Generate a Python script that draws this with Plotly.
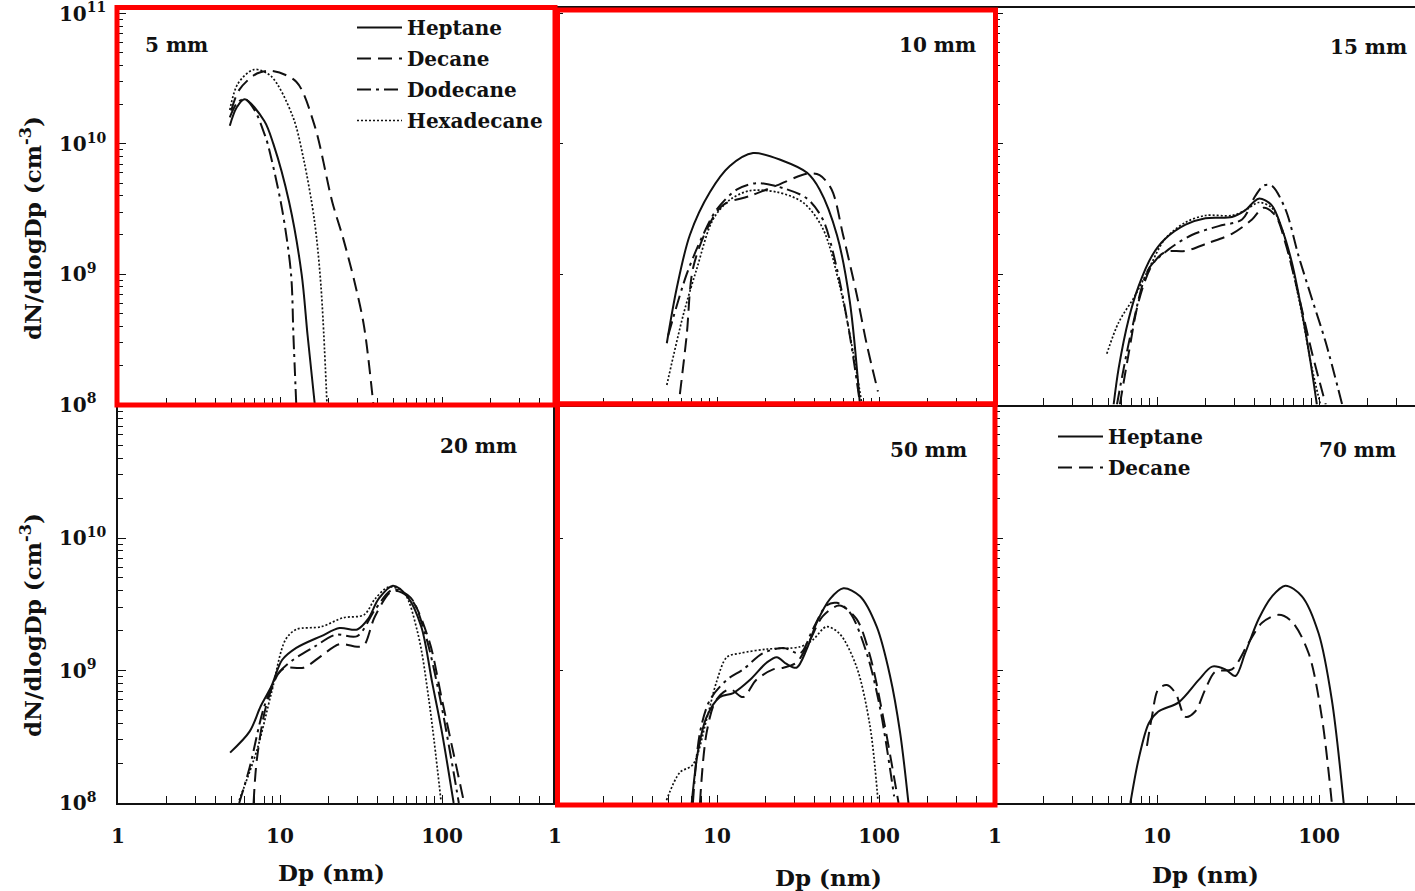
import plotly.graph_objects as go
from plotly.subplots import make_subplots

# ---------------- data ----------------
fuels = ["Heptane", "Decane", "Dodecane", "Hexadecane"]
panel_labels = ["5 mm", "10 mm", "15 mm", "20 mm", "50 mm", "70 mm"]
x_tick_vals = [1, 10, 100]
x_tick_text = ["1", "10", "100"]
x_minor_vals = [2, 3, 4, 5, 6, 7, 8, 9, 20, 30, 40, 50, 60, 70, 80, 90, 200, 300, 400]
y_tick_vals = [1e8, 1e9, 1e10, 1e11]
y_tick_text_top = ["10<sup>8\u2007</sup>", "10<sup>9\u2007</sup>", "10<sup>10</sup>", "10<sup>11</sup>"]
y_tick_text_bottom = ["10<sup>8\u2007</sup>", "10<sup>9\u2007</sup>", "10<sup>10</sup>", " "]
y_minor_vals = [k * 10 ** e for e in (8, 9, 10) for k in range(2, 10)]
x_title = "Dp (nm)"
y_title = "dN/dlogDp (cm<sup>-3</sup>)"

# 5 mm
dp_5_hep = [4.9, 5.4, 6.05, 8.0, 9.1, 11.4, 13.6, 14.8, 16.4]
n_5_hep = [1.38e10, 1.9e10, 2.2e10, 1.5e10, 1.0e10, 3.55e9, 1.0e9, 3.4e8, 1.0e8]
dp_5_dec = [5.0, 5.6, 7.2, 8.9, 12.6, 16.3, 21.0, 24.5, 29.0, 33.0, 37.7]
n_5_dec = [1.8e10, 2.6e10, 3.47e10, 3.63e10, 3.0e10, 1.4e10, 3.6e9, 1.9e9, 8.5e8, 4.0e8, 1.0e8]
dp_5_dod = [4.9, 5.5, 6.1, 7.0, 8.0, 8.4, 10.3, 11.7, 12.1, 12.6]
n_5_dod = [1.6e10, 2.1e10, 2.2e10, 1.8e10, 1.2e10, 1.0e10, 3.16e9, 1.0e9, 3.4e8, 1.0e8]
dp_5_hex = [4.9, 5.5, 6.9, 8.8, 12.0, 14.0, 16.3, 17.9, 19.5]
n_5_hex = [1.82e10, 2.9e10, 3.72e10, 3.31e10, 1.62e10, 7.6e9, 2.6e9, 8.1e8, 1.0e8]

# 10 mm
dp_10_hep = [4.9, 5.64, 6.8, 9.05, 12.0, 16.7, 25.7, 36.0, 43.0, 55.0, 66.0, 76.0]
n_10_hep = [2.95e8, 7.8e8, 2.0e9, 4.27e9, 6.76e9, 8.5e9, 7.4e9, 6.0e9, 4.47e9, 2.0e9, 6.2e8, 1.05e8]
dp_10_dec = [5.9, 6.5, 7.1, 8.7, 10.9, 15.9, 23.4, 36.0, 43.0, 51.0, 60.0, 73.0, 84.0, 98.5]
n_10_dec = [1.2e8, 3.4e8, 1.1e9, 2.24e9, 3.4e9, 3.98e9, 4.8e9, 5.9e9, 5.75e9, 4.47e9, 2.0e9, 6.9e8, 2.9e8, 1.26e8]
dp_10_dod = [5.0, 6.5, 8.2, 10.0, 13.3, 17.6, 25.7, 36.0, 45.0, 55.0, 66.0, 76.0]
n_10_dod = [3.4e8, 1.0e9, 2.0e9, 3.16e9, 4.47e9, 5.0e9, 4.57e9, 3.8e9, 2.63e9, 1.1e9, 3.4e8, 1.05e8]
dp_10_hex = [4.9, 6.2, 7.5, 9.45, 12.0, 15.9, 23.4, 34.0, 45.0, 57.0, 69.0, 78.0]
n_10_hex = [1.41e8, 4.9e8, 1.1e9, 2.63e9, 3.72e9, 4.37e9, 4.27e9, 3.55e9, 2.24e9, 8.3e8, 2.57e8, 1.05e8]

# 15 mm
dp_15_hep = [5.4, 5.8, 6.7, 7.7, 9.3, 11.2, 15.0, 19.9, 29.0, 35.0, 42.4, 51.0, 59.0, 68.0, 78.5, 88.5, 97.0]
n_15_hep = [1.0e8, 1.9e8, 4.57e8, 8.1e8, 1.38e9, 1.86e9, 2.4e9, 2.69e9, 2.75e9, 3.09e9, 3.8e9, 3.39e9, 2.24e9, 1.23e9, 5.13e8, 2.14e8, 1.0e8]
dp_15_dec = [5.9, 6.7, 7.7, 9.3, 11.2, 15.0, 20.8, 29.0, 38.6, 45.5, 53.8, 62.0, 74.8, 90.5, 110.0]
n_15_dec = [1.0e8, 2.5e8, 6.17e8, 1.17e9, 1.48e9, 1.51e9, 1.74e9, 2.04e9, 2.63e9, 3.24e9, 2.82e9, 1.74e9, 6.9e8, 2.5e8, 1.0e8]
dp_15_dod = [5.66, 7.0, 8.9, 11.8, 16.4, 24.0, 33.5, 40.4, 45.5, 51.0, 62.0, 74.8, 90.5, 110.0, 139.0]
n_15_dod = [1.0e8, 3.8e8, 1.1e9, 1.55e9, 2.0e9, 2.34e9, 2.63e9, 3.98e9, 4.79e9, 4.79e9, 3.16e9, 1.38e9, 6.46e8, 3.0e8, 1.0e8]
dp_15_hex = [4.9, 5.8, 7.35, 8.9, 11.2, 15.0, 19.9, 29.0, 35.0, 42.4, 51.0, 59.0, 68.0, 78.5, 90.5, 102.0]
n_15_hex = [2.45e8, 4.27e8, 6.9e8, 1.1e9, 1.86e9, 2.5e9, 2.82e9, 2.82e9, 3.09e9, 3.55e9, 3.24e9, 2.24e9, 1.15e9, 4.9e8, 1.9e8, 1.0e8]

# 20 mm
dp_20_hep = [4.92, 6.5, 7.6, 8.85, 10.3, 12.6, 18.0, 23.3, 30.0, 35.0, 40.6, 49.7, 61.0, 74.5, 87.0, 100.0, 118.0]
n_20_hep = [2.4e8, 3.47e8, 5.37e8, 7.6e8, 1.2e9, 1.48e9, 1.82e9, 2.09e9, 2.04e9, 2.45e9, 3.47e9, 4.37e9, 3.63e9, 2.14e9, 8.1e8, 3.4e8, 1.0e8]
dp_20_dec = [6.87, 7.2, 8.2, 9.8, 10.8, 14.0, 18.0, 23.3, 30.0, 33.0, 38.6, 49.7, 64.0, 83.0, 100.0, 137.0]
n_20_dec = [1.0e8, 2.14e8, 5.37e8, 9.55e8, 1.05e9, 1.05e9, 1.29e9, 1.58e9, 1.51e9, 1.55e9, 2.57e9, 3.98e9, 3.47e9, 1.7e9, 6.0e8, 1.0e8]
dp_20_dod = [5.6, 6.5, 8.0, 9.8, 12.0, 16.3, 22.0, 30.0, 38.6, 49.7, 64.0, 78.6, 95.8, 118.0, 127.0]
n_20_dod = [1.0e8, 1.86e8, 5.37e8, 9.55e8, 1.2e9, 1.51e9, 1.86e9, 1.82e9, 2.88e9, 4.07e9, 3.55e9, 1.9e9, 6.76e8, 1.7e8, 1.0e8]
dp_20_hex = [5.6, 7.2, 8.85, 10.8, 12.6, 18.0, 24.5, 33.0, 38.6, 47.0, 58.0, 71.0, 83.0, 98.5]
n_20_hex = [1.05e8, 2.5e8, 6.76e8, 1.7e9, 2.04e9, 2.14e9, 2.5e9, 2.63e9, 3.47e9, 4.27e9, 3.89e9, 1.9e9, 6.0e8, 1.05e8]

# 50 mm
dp_50_hep = [6.98, 7.65, 8.63, 10.4, 12.6, 16.0, 20.3, 23.4, 26.9, 31.0, 35.8, 41.2, 49.9, 60.3, 76.4, 96.8, 117.0, 135.0, 152.0]
n_50_hep = [1.0e8, 2.5e8, 4.47e8, 6.3e8, 6.76e8, 8.5e8, 1.15e9, 1.26e9, 1.12e9, 1.05e9, 1.45e9, 2.29e9, 3.47e9, 4.17e9, 3.63e9, 2.14e9, 9.1e8, 3.4e8, 1.0e8]
dp_50_dec = [7.85, 8.63, 9.9, 12.0, 14.5, 17.5, 22.2, 25.7, 31.0, 37.5, 45.0, 57.0, 72.6, 88.0, 106.0, 132.0]
n_50_dec = [1.0e8, 3.4e8, 6.0e8, 7.24e8, 6.3e8, 8.5e8, 1.02e9, 1.05e9, 1.15e9, 1.7e9, 2.57e9, 3.09e9, 2.45e9, 1.29e9, 4.47e8, 1.0e8]
dp_50_dod = [7.1, 7.85, 9.05, 11.5, 14.5, 19.2, 25.7, 32.6, 39.0, 47.4, 54.8, 66.0, 84.0, 101.0, 124.0]
n_50_dod = [1.0e8, 3.4e8, 6.0e8, 8.5e8, 1.02e9, 1.35e9, 1.48e9, 1.35e9, 2.04e9, 3.09e9, 3.24e9, 2.75e9, 1.35e9, 5.37e8, 1.12e8]
dp_50_hex = [4.88, 5.9, 7.1, 8.63, 9.9, 11.5, 13.9, 20.3, 32.6, 39.0, 47.4, 57.0, 72.6, 88.0, 98.5]
n_50_hex = [1.05e8, 1.7e8, 1.95e8, 4.27e8, 8.1e8, 1.26e9, 1.35e9, 1.45e9, 1.51e9, 1.7e9, 2.14e9, 1.9e9, 1.07e9, 3.8e8, 1.05e8]

# 70 mm
dp_70_hep = [6.85, 7.7, 8.9, 10.2, 13.6, 18.1, 21.9, 26.4, 30.5, 35.0, 42.4, 51.3, 62.0, 78.5, 99.5, 120.0, 142.0]
n_70_hep = [1.0e8, 2.14e8, 4.0e8, 4.9e8, 5.75e8, 8.5e8, 1.07e9, 1.02e9, 9.1e8, 1.35e9, 2.45e9, 3.63e9, 4.37e9, 3.63e9, 1.9e9, 6.0e8, 1.0e8]
dp_70_dec = [8.67, 9.3, 10.2, 11.5, 13.0, 15.0, 17.2, 19.9, 22.9, 29.0, 36.8, 44.5, 56.4, 68.0, 86.3, 104.0, 120.0]
n_70_dec = [2.7e8, 4.47e8, 7.24e8, 7.76e8, 6.76e8, 4.47e8, 4.9e8, 7.24e8, 9.8e8, 1.02e9, 1.62e9, 2.29e9, 2.63e9, 2.34e9, 1.35e9, 4.47e8, 1.0e8]

panels = [
    [("Heptane", dp_5_hep, n_5_hep), ("Decane", dp_5_dec, n_5_dec),
     ("Dodecane", dp_5_dod, n_5_dod), ("Hexadecane", dp_5_hex, n_5_hex)],
    [("Heptane", dp_10_hep, n_10_hep), ("Decane", dp_10_dec, n_10_dec),
     ("Dodecane", dp_10_dod, n_10_dod), ("Hexadecane", dp_10_hex, n_10_hex)],
    [("Heptane", dp_15_hep, n_15_hep), ("Decane", dp_15_dec, n_15_dec),
     ("Dodecane", dp_15_dod, n_15_dod), ("Hexadecane", dp_15_hex, n_15_hex)],
    [("Heptane", dp_20_hep, n_20_hep), ("Decane", dp_20_dec, n_20_dec),
     ("Dodecane", dp_20_dod, n_20_dod), ("Hexadecane", dp_20_hex, n_20_hex)],
    [("Heptane", dp_50_hep, n_50_hep), ("Decane", dp_50_dec, n_50_dec),
     ("Dodecane", dp_50_dod, n_50_dod), ("Hexadecane", dp_50_hex, n_50_hex)],
    [("Heptane", dp_70_hep, n_70_hep), ("Decane", dp_70_dec, n_70_dec)],
]

# ---------------- styling / layout ----------------
W, H = 1415, 891
ML, MT, MB = 118, 8, 88
PW, PH = W - ML, H - MT - MB

def fx(px):
    return (px - ML) / PW

def fy(py):
    return (H - MB - py) / PH

FONT = "DejaVu Serif"
INK = "#111111"
dash = {"Heptane": "solid", "Decane": "14px,7px", "Dodecane": "14px,5px,3px,5px", "Hexadecane": "2px,2px"}
width = {"Heptane": 2.0, "Decane": 2.0, "Dodecane": 2.0, "Hexadecane": 1.7}

col_px = [(118, 555), (555, 995), (995, 1415)]
row_px = [(8, 404.5), (404.5, 803)]
dec_x = 162.0
y_top_range = [8, 8 + (404.5 - 8) / 130.3]
y_bot_range = [8, 8 + (803 - 404.5) / 132.5]

fig = make_subplots(rows=2, cols=3, horizontal_spacing=0, vertical_spacing=0)

for i, series in enumerate(panels):
    r, c = i // 3 + 1, i % 3 + 1
    for name, dp, n in series:
        if i == 0:
            leg, show = "legend", True
        elif i == 5:
            leg, show = "legend2", True
        else:
            leg, show = "legend", False
        fig.add_trace(go.Scatter(
            x=dp, y=n, mode="lines", name=name,
            line=dict(color=INK, width=width[name], dash=dash[name], shape="spline", smoothing=0.9),
            showlegend=show, legend=leg, legendgroup=f"{name}{i}",
            hoverinfo="skip"), row=r, col=c)

for i in range(6):
    r, c = i // 3, i % 3
    ax = "" if i == 0 else str(i + 1)
    x0p, x1p = col_px[c]
    y0p, y1p = row_px[r]
    xdom = [max(0.0, fx(x0p)), min(1.0, fx(x1p))]
    ydom = [max(0.0, fy(y1p)), min(1.0, fy(y0p))]
    xr = [0, (x1p - x0p) / dec_x]
    fig.layout["xaxis" + ax].update(
        domain=xdom, type="log", range=xr, anchor="y" + ax,
        tickvals=x_tick_vals, ticktext=x_tick_text,
        showticklabels=(r == 1), ticks="inside", ticklen=8, tickwidth=1.2, tickcolor=INK,
        minor=dict(tickvals=x_minor_vals, ticks="inside", ticklen=7, tickwidth=1.2, tickcolor=INK, showgrid=False),
        showline=True, linecolor=INK, linewidth=1.5, mirror=(r == 0),
        showgrid=False, zeroline=False, ticklabelstandoff=14,
        tickfont=dict(family=FONT, size=20, color=INK, weight="bold"))
    fig.layout["yaxis" + ax].update(
        domain=ydom, type="log", range=(y_top_range if r == 0 else y_bot_range), anchor="x" + ax,
        tickvals=y_tick_vals, ticktext=(y_tick_text_top if r == 0 else y_tick_text_bottom),
        showticklabels=(c == 0), ticks="inside", ticklen=8, tickwidth=1.2, tickcolor=INK,
        minor=dict(tickvals=y_minor_vals, ticks="inside", ticklen=5, tickwidth=1.2, tickcolor=INK, showgrid=False),
        showline=True, linecolor=INK, linewidth=1.5, ticklabeloverflow="allow",
        showgrid=False, zeroline=False, ticklabelstandoff=6,
        tickfont=dict(family=FONT, size=20, color=INK, weight="bold"))

ann = []
label_pos = [(176, 45), (937, 45), (1368, 47), (478, 446), (928, 450), (1357, 450)]
for txt, (px, py) in zip(panel_labels, label_pos):
    ann.append(dict(text=txt, x=fx(px), y=fy(py), xref="paper", yref="paper",
                    xanchor="center", yanchor="middle", showarrow=False,
                    font=dict(family=FONT, size=20, color=INK, weight="bold")))
for px, py in [(331, 872), (829, 877), (1205, 874)]:
    ann.append(dict(text=x_title, x=fx(px), y=fy(py), xref="paper", yref="paper",
                    xanchor="center", yanchor="middle", showarrow=False,
                    font=dict(family=FONT, size=23, color=INK, weight="bold")))
for py in (228, 625):
    ann.append(dict(text=y_title, x=fx(31), y=fy(py), xref="paper", yref="paper",
                    xanchor="center", yanchor="middle", showarrow=False, textangle=-90,
                    font=dict(family=FONT, size=23, color=INK, weight="bold")))

shapes = []
for (x0, y0, x1, y1) in [(117, 7.5, 555, 405), (557.5, 10, 995.5, 404), (557.5, 404, 995, 805)]:
    shapes.append(dict(type="rect", xref="paper", yref="paper",
                       x0=fx(x0), x1=fx(x1), y0=fy(y1), y1=fy(y0),
                       line=dict(color="#ff0000", width=5), fillcolor="rgba(0,0,0,0)", layer="above"))

fig.update_layout(
    width=W, height=H, margin=dict(l=ML, r=0, t=MT, b=MB, autoexpand=False),
    paper_bgcolor="white", plot_bgcolor="white",
    font=dict(family=FONT, color=INK, size=20, weight="bold"),
    annotations=ann, shapes=shapes,
    legend=dict(x=fx(352), y=fy(8), xanchor="left", yanchor="top",
                bgcolor="rgba(0,0,0,0)", borderwidth=0, tracegroupgap=2,
                traceorder="grouped", itemwidth=45,
                font=dict(family=FONT, size=20, color=INK, weight="bold")),
    legend2=dict(x=fx(1053), y=fy(417), xanchor="left", yanchor="top",
                 bgcolor="rgba(0,0,0,0)", borderwidth=0, tracegroupgap=2,
                 traceorder="grouped", itemwidth=45,
                 font=dict(family=FONT, size=20, color=INK, weight="bold")),
    showlegend=True,
)

fig.write_html("out.html", config={"displayModeBar": False},
               post_script="document.body.style.margin='0px';document.body.style.overflow='hidden';")
